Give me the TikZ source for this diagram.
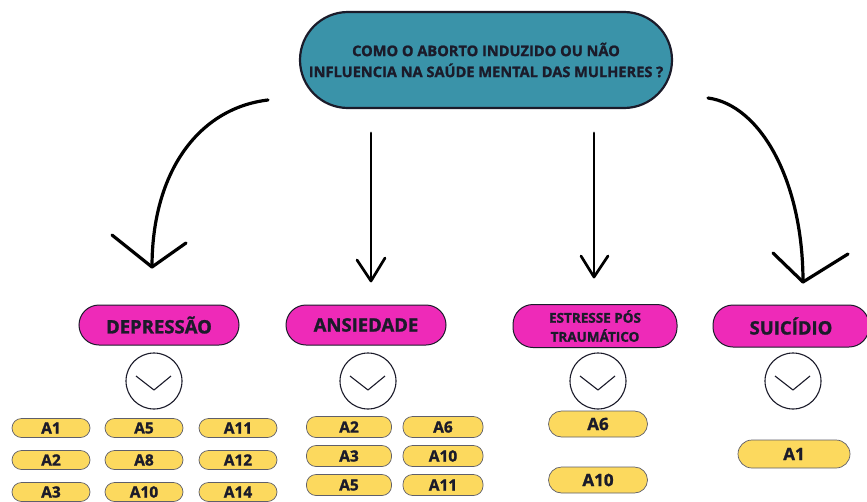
\documentclass[tikz,border=0pt]{standalone}
\usepackage{fontspec}
\usetikzlibrary{shapes.misc}
\setmainfont[BoldFeatures={FakeBold=1.3}]{Open Sans}
\definecolor{teal1}{HTML}{3A93A9}
\definecolor{pink1}{HTML}{EE2AB8}
\definecolor{yel1}{HTML}{FCD95E}
\definecolor{ink}{HTML}{1B1B2A}
\begin{document}
\begin{tikzpicture}[x=1pt,y=-1pt,
  question/.style={draw=ink,line width=2.2pt,fill=teal1,rounded rectangle,minimum width=372pt,minimum height=96pt,align=center,font=\bfseries\fontsize{14.6}{21}\selectfont,text=ink,inner sep=0pt},
  topic/.style={draw=ink,line width=1pt,fill=pink1,rounded corners=20pt,minimum height=40pt,align=center,text=ink,inner sep=0pt,font=\bfseries\fontsize{18.5}{20}\selectfont},
  chev/.style={draw=ink,line width=1.1pt,circle,minimum size=56pt,inner sep=0pt},
  ref/.style={draw=ink!70,line width=0.7pt,fill=yel1,rounded corners=9.5pt,minimum height=19pt,inner sep=0pt,text=ink,font=\bfseries\fontsize{15.5}{15}\selectfont},
  refbig/.style={ref,rounded corners=13pt,minimum height=26pt,font=\bfseries\fontsize{17}{17}\selectfont},
  conn/.style={line width=3.2pt,line cap=round,line join=round,draw=black}
]
\useasboundingbox (0,0) rectangle (867,501);
\fill[white] (0,0) rectangle (867,501);

\node[question] (q) at (486,60) {COMO O ABORTO INDUZIDO OU NÃO\\INFLUENCIA NA SAÚDE MENTAL DAS MULHERES ?};

\node[topic,minimum width=160pt] (dep) at (159,325) {DEPRESSÃO};
\node[topic,minimum width=160pt] (ans) at (366,325) {ANSIEDADE};
\node[topic,minimum width=164pt,minimum height=43pt,font=\bfseries\fontsize{13.5}{19}\selectfont] (est) at (595,326) {ESTRESSE PÓS\\TRAUMÁTICO};
\node[topic,minimum width=156pt,minimum height=42pt] (sui) at (791,326) {SUICÍDIO};

% chevron circles
\foreach \n/\x in {c1/154,c2/368,c3/598,c4/793}{
  \node[chev] (\n) at (\x,381) {};
  \draw[line width=1.1pt,draw=ink,line join=round] ([shift={(-18,-5)}]\n.center) -- ([shift={(0,9)}]\n.center) -- ([shift={(17,-5)}]\n.center);
}

% connectors
\coordinate (s1) at (268,100); \coordinate (t1) at (152,267);
\coordinate (s2) at (371,133); \coordinate (t2) at (371,281);
\coordinate (s3) at (594,133); \coordinate (t3) at (594,277);
\coordinate (s4) at (708,98);  \coordinate (t4) at (803,282);
\draw[conn] (s1) .. controls (200,108) and (152,170) .. (t1);
\draw[conn] (t1) -- ++(-40,-32) (t1) -- ++(34,-24);
\draw[conn,line width=2.7pt] (s2) -- (t2);
\draw[conn,line width=2.7pt] (t2) -- ++(-14,-21) (t2) -- ++(14,-23);
\draw[conn,line width=2.7pt] (s3) -- (t3);
\draw[conn,line width=2.7pt] (t3) -- ++(-13,-21) (t3) -- ++(14,-21);
\draw[conn] (s4) .. controls (760,105) and (803,180) .. (t4);
\draw[conn] (t4) -- ++(-30,-29) (t4) -- ++(45,-28);

% depression refs
\node[ref,minimum width=78pt] (d1) at (51,428) {A1};
\node[ref,minimum width=78pt] (d2) at (51,460) {A2};
\node[ref,minimum width=78pt] (d3) at (51,492) {A3};
\node[ref,minimum width=78pt] (d5) at (144,428) {A5};
\node[ref,minimum width=78pt] (d8) at (144,460) {A8};
\node[ref,minimum width=78pt] (d10) at (144,492) {A10};
\node[ref,minimum width=78pt] (d11) at (238,428) {A11};
\node[ref,minimum width=78pt] (d12) at (238,460) {A12};
\node[ref,minimum width=78pt] (d14) at (238,492) {A14};

% anxiety refs
\node[ref,minimum width=85pt,minimum height=21pt] (a2) at (349,427) {A2};
\node[ref,minimum width=85pt,minimum height=21pt] (a3) at (349,456) {A3};
\node[ref,minimum width=85pt,minimum height=21pt] (a5) at (349,485) {A5};
\node[ref,minimum width=80pt,minimum height=21pt] (a6) at (443,427) {A6};
\node[ref,minimum width=80pt,minimum height=21pt] (a10) at (443,456) {A10};
\node[ref,minimum width=80pt,minimum height=21pt] (a11) at (443,485) {A11};

% ptsd refs
\node[refbig,minimum width=99pt] (e6) at (598,424) {A6};
\node[refbig,minimum width=99pt] (e10) at (598,480) {A10};

% suicide refs
\node[refbig,minimum width=112pt,minimum height=28pt,rounded corners=14pt] (s1r) at (794,454) {A1};
\end{tikzpicture}
\end{document}
